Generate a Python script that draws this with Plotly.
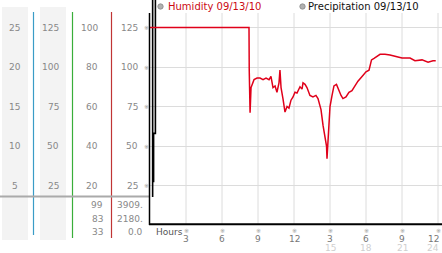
import plotly.graph_objects as go

# ---------------- data ----------------
hum_hours = [0, 8.25, 8.27, 8.34, 8.42, 8.67, 8.92, 9.17, 9.42, 9.67, 9.92, 10.08, 10.25, 10.42,
             10.58, 10.75, 10.83, 10.92, 11.08, 11.25, 11.42, 11.58, 11.75, 11.92, 12.08, 12.25,
             12.5, 12.67, 12.75, 12.92, 13.08, 13.33, 13.58, 13.83, 14.0, 14.25, 14.42, 14.58,
             14.71, 14.75, 14.83, 14.92, 15.0, 15.17, 15.33, 15.54, 15.75, 15.92, 16.08, 16.33,
             16.58, 16.83, 17.08, 17.33, 17.67, 18.0, 18.25, 18.33, 18.46, 18.67, 18.92, 19.17,
             19.58, 20.0, 20.58, 21.0, 21.67, 22.08, 22.67, 23.17, 23.58, 23.81]
humidity = [125, 125, 98, 71, 87, 92, 93, 93, 92, 93, 92, 94, 87, 88,
            84, 90, 98, 87, 80, 71.5, 75, 74, 79, 81, 84, 83.5,
            87.5, 86, 90, 89, 87, 82, 81, 82, 80, 73, 63, 56,
            50, 42, 55, 62, 75, 82, 88, 89, 85, 82, 80, 81,
            84, 85, 88, 91, 94, 97, 98, 100, 104.5, 105.5, 106.5, 108,
            108, 107.6, 106.5, 105.7, 105.7, 104, 104.5, 103, 104, 104]

precip_hours = [0.22, 0.22, 0.45, 0.45, 0.3, 0.3]
precip_vals = [17.7, 150, 150, 58, 58, 27]

col1_labels = ["25", "20", "15", "10", "5"]
col2_labels = ["125", "100", "75", "50", "25"]
col3_labels = ["100", "80", "60", "40", "20"]
col4_labels = ["125", "100", "75", "50", "25"]
row_values = [125, 100, 75, 50, 25]

summary3 = ["99", "83", "33"]
summary4 = ["3909.", "2180.", "0.0"]

hour_ticks = [3, 6, 9, 12, 15, 18, 21, 24]
hour_labels = ["3", "6", "9", "12", "3", "6", "9", "12"]
hour_labels2 = ["", "", "", "", "15", "18", "21", "24"]

legend_names = ["Humidity 09/13/10", "Precipitation 09/13/10"]

# ---------------- geometry helpers ----------------
W, H = 442, 253
PLOT_L = 150
Y0_PX = 225            # pixel row of value 0
PX_PER_UNIT = 1.58
X_PER_HOUR = 12


def px(x):
    return x / W


def py(y):
    return 1 - y / H


FONT = "DejaVu Sans"

fig = go.Figure()
fig.add_trace(go.Scatter(x=precip_hours, y=precip_vals, mode="lines",
                         line=dict(color="black", width=1.6), hoverinfo="skip"))
fig.add_trace(go.Scatter(x=hum_hours, y=humidity, mode="lines",
                         line=dict(color="#e0001a", width=1.5), hoverinfo="skip"))

shapes = []
annotations = []

# left panel backgrounds
for x0, x1 in [(2, 28), (40, 66)]:
    shapes.append(dict(type="rect", xref="paper", yref="paper", x0=px(x0), x1=px(x1),
                       y0=py(240), y1=py(7), fillcolor="#f3f3f3", line=dict(width=0), layer="below"))
# coloured separators
for x, c, yb in [(33.5, "#3a9cc6", 235), (72.5, "#3aae3a", 238), (111.5, "#c03535", 238)]:
    shapes.append(dict(type="line", xref="paper", yref="paper", x0=px(x), x1=px(x),
                       y0=py(12), y1=py(yb), line=dict(color=c, width=1.2)))
# gray horizontal divider
shapes.append(dict(type="line", xref="paper", yref="paper", x0=0, x1=px(150),
                   y0=py(196.5), y1=py(196.5), line=dict(color="#aaaaaa", width=2)))
# vertical grid lines
for h in hour_ticks:
    shapes.append(dict(type="line", xref="x", yref="paper", x0=h, x1=h,
                       y0=py(224), y1=py(13), line=dict(color="#dcdcdc", width=1), layer="below"))
# axis frame
shapes.append(dict(type="line", xref="paper", yref="paper", x0=px(149.5), x1=px(149.5),
                   y0=py(13), y1=py(225), line=dict(color="black", width=1.5)))
shapes.append(dict(type="line", xref="paper", yref="paper", x0=px(149), x1=1,
                   y0=py(224.3), y1=py(224.3), line=dict(color="black", width=2)))


def ann(text, x, y, xanchor="center", size=9, color="#888888", yref="paper"):
    annotations.append(dict(text=text, x=px(x), y=(py(y) if yref == "paper" else y),
                            xref="paper", yref=yref, xanchor=xanchor, yanchor="middle",
                            showarrow=False, font=dict(family=FONT, size=size, color=color)))


for i, v in enumerate(row_values):
    ann(col1_labels[i], 14.5, v, "center", yref="y")
    ann(col2_labels[i], 61, v, "right", yref="y")
    ann(col3_labels[i], 100, v, "right", yref="y")
    ann(col4_labels[i], 140, v, "right", yref="y")
    ann("※", 146.5, v, "center", size=6, color="#999999", yref="y")

for i, yy in enumerate([205, 219, 232]):
    ann(summary3[i], 105, yy, "right")
    ann(summary4[i], 145, yy, "right")

ann("Hours", 153.5, 232, "left", size=9, color="#555555")
for i, h in enumerate(hour_ticks):
    xp = PLOT_L + h * X_PER_HOUR
    last = i == len(hour_ticks) - 1
    anchor = "right" if last else "center"
    xl = W - 1 if last else xp
    ann("※", xp, 230.5, "center", size=6, color="#999999")
    ann(hour_labels[i], xl, 238.5, anchor, size=9, color="#777777")
    if hour_labels2[i]:
        ann(hour_labels2[i], xl, 247.5, anchor, size=9, color="#cfcfcf")

# legend
ann(legend_names[0], 165.5, 6.5, "left", size=10, color="#cc0a14")
ann(legend_names[1], 306, 6.5, "left", size=10, color="#111111")
for cx in [160.5, 302.5]:
    shapes.append(dict(type="circle", xref="paper", yref="paper",
                       x0=px(cx - 2.7), x1=px(cx + 2.7), y0=py(9.2), y1=py(3.8),
                       fillcolor="#b0b0b0", line=dict(color="#888888", width=0.8)))

fig.update_layout(
    width=W, height=H, margin=dict(l=0, r=0, t=0, b=0),
    paper_bgcolor="white", plot_bgcolor="white", showlegend=False,
    xaxis=dict(domain=[px(PLOT_L), 1], range=[0, (W - PLOT_L) / X_PER_HOUR],
               showgrid=False, zeroline=False, showticklabels=False, ticks="", fixedrange=True),
    yaxis=dict(domain=[py(Y0_PX), 1], range=[0, Y0_PX / PX_PER_UNIT],
               tickvals=row_values, showgrid=True, gridcolor="#dcdcdc", gridwidth=1,
               showticklabels=False, zeroline=False, ticks="", fixedrange=True),
    shapes=shapes, annotations=annotations,
)

fig.write_html("out.html")
